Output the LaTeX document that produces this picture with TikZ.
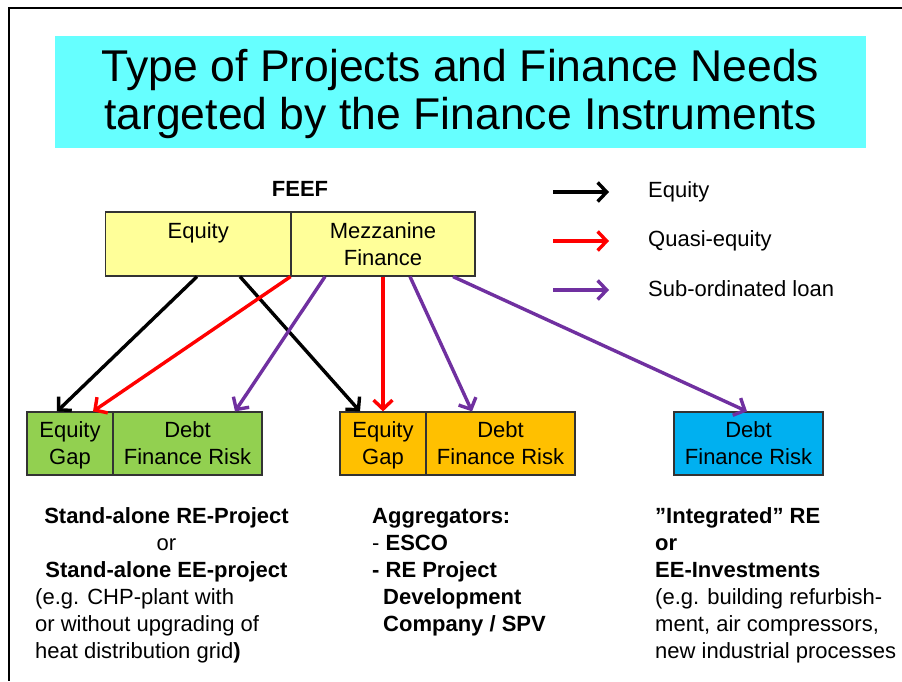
\documentclass[tikz,border=0pt]{standalone}
\usepackage{fontspec}
\setmainfont{Liberation Sans}
\usetikzlibrary{arrows.meta}
\definecolor{titlecyan}{HTML}{66FFFF}
\definecolor{yellowbox}{HTML}{FFFF99}
\definecolor{greenbox}{HTML}{92D050}
\definecolor{orangebox}{HTML}{FFC000}
\definecolor{bluebox}{HTML}{00B0F0}
\definecolor{purpleline}{HTML}{7030A0}
\definecolor{redline}{HTML}{FF0000}
\begin{document}
\begin{tikzpicture}[x=1pt,y=-1pt,
  every node/.style={font=\fontsize{22}{27}\selectfont, inner sep=0pt},
  cell/.style={draw=black!80, line width=1.2pt, align=center, text depth=0pt},
  topcell/.style={cell, fill=yellowbox, minimum height=64pt},
  botcell/.style={cell, minimum height=63pt},
  flow/.style={line width=3.4pt, -{Straight Barb[length=9pt,width=19pt]}},
  boldtxt/.style={font=\bfseries\fontsize{22}{27}\selectfont},
  para/.style={align=left, anchor=north west}
]
\useasboundingbox (0,0) rectangle (902,681);
\fill[white] (0,0) rectangle (902,681);
\draw[line width=2pt] (902,7.5) -- (8.5,7.5) -- (8.5,681);

% title
\node[fill=titlecyan, minimum width=811pt, minimum height=112pt, align=center,
      font=\fontsize{44.5}{48}\selectfont, text depth=6pt] (title) at (460.5,92)
  {Type of Projects and Finance Needs\\targeted by the Finance Instruments};

% FEEF box
\node[boldtxt, anchor=base] (feef) at (300,196) {FEEF};
\node[topcell, minimum width=185.5pt] (topeq) at (198.25,244) {Equity\\\phantom{Finance}};
\node[topcell, minimum width=184pt] (topmez) at (383,244) {Mezzanine\\Finance};

% legend
\coordinate (l1s) at (553,192); \coordinate (l1e) at (609,192);
\coordinate (l2s) at (553,241); \coordinate (l2e) at (609,241);
\coordinate (l3s) at (553,290); \coordinate (l3e) at (609,290);
\draw[flow, black] (l1s) -- (l1e);
\draw[flow, redline] (l2s) -- (l2e);
\draw[flow, purpleline] (l3s) -- (l3e);
\node[anchor=base west] (leg1) at (648,197) {Equity};
\node[anchor=base west] (leg2) at (648,246) {Quasi-equity};
\node[anchor=base west] (leg3) at (648,296) {Sub-ordinated loan};

% bottom boxes
\node[botcell, fill=greenbox, minimum width=86pt] (geq) at (70,443.5) {Equity\\Gap};
\node[botcell, fill=greenbox, minimum width=149pt] (gdebt) at (187.5,443.5) {Debt\\Finance Risk};
\node[botcell, fill=orangebox, minimum width=86pt] (oeq) at (383,443.5) {Equity\\Gap};
\node[botcell, fill=orangebox, minimum width=149pt] (odebt) at (500.5,443.5) {Debt\\Finance Risk};
\node[botcell, fill=bluebox, minimum width=149pt] (bdebt) at (748.5,443.5) {Debt\\Finance Risk};

% connectors
\draw[flow, black] ([xshift=-1.25pt]topeq.south) -- ([xshift=-13pt]geq.north);
\draw[flow, black] ([xshift=41.75pt]topeq.south) -- ([xshift=-23pt]oeq.north);
\draw[flow, redline] ([xshift=-1pt]topeq.south east) -- ([xshift=23pt]geq.north);
\draw[flow, redline] (topmez.south) -- (oeq.north);
\draw[flow, purpleline] ([xshift=-58pt]topmez.south) -- ([xshift=47.5pt]gdebt.north);
\draw[flow, purpleline] ([xshift=27pt]topmez.south) -- ([xshift=-28.5pt]odebt.north);
\draw[flow, purpleline] ([xshift=70pt]topmez.south) -- ([xshift=-1.5pt]bdebt.north);

% bottom texts
\node[align=center, anchor=north] (lefta) at (166.5,504.1)
  {\strut\textbf{Stand-alone RE-Project}\\or\\\textbf{Stand-alone EE-project}};
\node[para] (leftb) at (35,585.1)
  {\strut(e.g. CHP-plant with\\or without upgrading of\\heat distribution grid\textbf{)}};
\node[para] (mid) at (372,504.1)
  {\strut\textbf{Aggregators:}\\- \textbf{ESCO}\\\textbf{- RE Project}\\\hspace*{11pt}\textbf{Development}\\\hspace*{11pt}\textbf{Company / SPV}};
\node[para] (right) at (655,504.1)
  {\strut\textbf{”Integrated” RE}\\\textbf{or}\\\textbf{EE-Investments}\\(e.g. building refurbish-\\ment, air compressors,\\new industrial processes};
\end{tikzpicture}
\end{document}
